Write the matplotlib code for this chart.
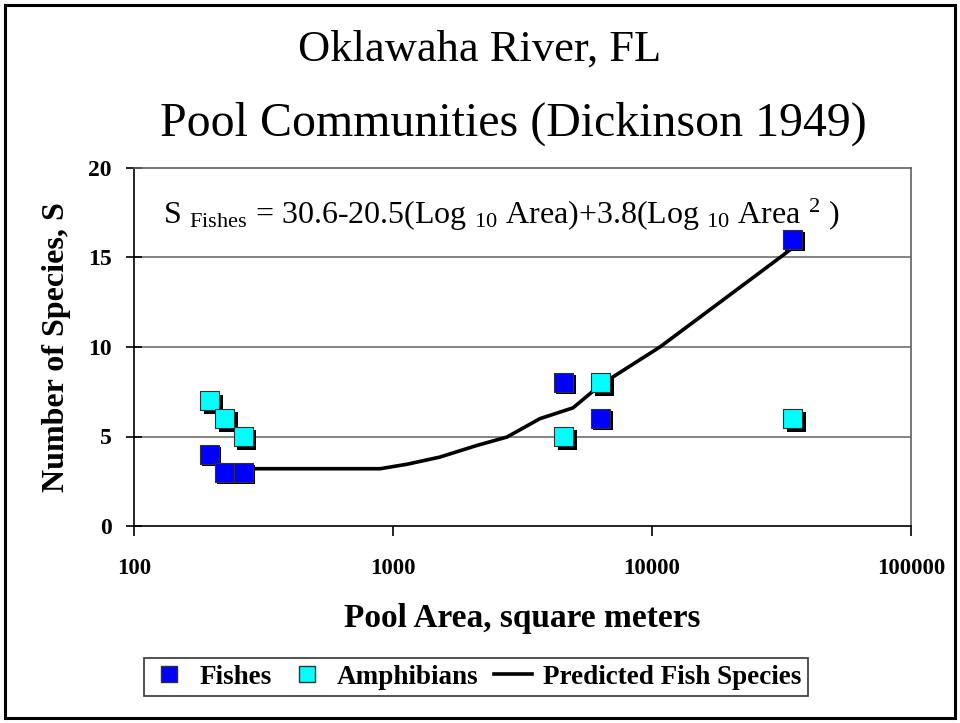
import matplotlib
matplotlib.use("Agg")
import matplotlib.pyplot as plt
import matplotlib.patheffects as pe
from matplotlib.lines import Line2D
from matplotlib.patches import Rectangle

# ---- data ----
area = [196, 224, 264, 4570, 6350, 35000]
fishes = [4, 3, 3, 8, 6, 16]
amphibians = [7, 6, 5, 5, 8, 6]

line_area = [224, 264, 892, 1133, 1517, 2108, 2754, 3696, 4955, 6350, 10730, 31200, 35000]
line_species = [3.2, 3.2, 3.2, 3.45, 3.85, 4.5, 4.97, 6.0, 6.6, 7.9, 10.0, 15.0, 15.55]

x_ticks = [100, 1000, 10000, 100000]
x_ticklabels = ["100", "1000", "10000", "100000"]
y_ticks = [0, 5, 10, 15, 20]

plt.rcParams['font.family'] = ['Liberation Serif', 'DejaVu Serif']
plt.rcParams['mathtext.fontset'] = 'custom'
plt.rcParams['mathtext.rm'] = 'Liberation Serif'
plt.rcParams['mathtext.it'] = 'Liberation Serif'

fig = plt.figure(figsize=(9.6, 7.23), dpi=100)
W, H = 960, 723

# outer border
fig.patches.append(Rectangle((5 / W, 5 / H), 950 / W, 713 / H, transform=fig.transFigure,
                             fill=False, edgecolor='black', linewidth=2.2))

ax = fig.add_axes([134 / W, 1 - 526 / H, (911 - 134) / W, (526 - 168) / H])
ax.set_xscale('log')
ax.set_xlim(100, 100000)
ax.set_ylim(0, 20)

ax.set_xticks(x_ticks)
ax.set_xticklabels(x_ticklabels)
ax.xaxis.set_minor_locator(matplotlib.ticker.NullLocator())
ax.set_yticks(y_ticks)

for yv in y_ticks[1:-1]:
    ax.axhline(yv, color='#707070', linewidth=1.2, zorder=1)

for s in ['top', 'right']:
    ax.spines[s].set_color('#606060')
    ax.spines[s].set_linewidth(1.2)
for s in ['left', 'bottom']:
    ax.spines[s].set_color('black')
    ax.spines[s].set_linewidth(1.2)

ax.tick_params(axis='y', direction='inout', length=12, width=1.2, labelsize=17, pad=10)
ax.tick_params(axis='x', direction='out', length=7, width=1.2, labelsize=16.5, pad=16)
for lab in ax.get_xticklabels() + ax.get_yticklabels():
    lab.set_fontweight('bold')

ax.plot(line_area, line_species, color='black', linewidth=2.6, zorder=3)

shadow = [pe.SimplePatchShadow(offset=(2.5, -2.5), shadow_rgbFace='black', alpha=1.0), pe.Normal()]
sc1 = ax.scatter(area, fishes, marker='s', s=190, facecolor='#0000FF', edgecolor='#303030',
                 linewidth=0.8, zorder=4)
sc1.set_path_effects([pe.SimplePatchShadow(offset=(1.5, -1.5), shadow_rgbFace='black', alpha=1.0), pe.Normal()])
sc2 = ax.scatter(area, amphibians, marker='s', s=190, facecolor='#00FFFF', edgecolor='#303030',
                 linewidth=0.8, zorder=5)
sc2.set_path_effects(shadow)

ax.text(29 / 777, 0.87, r"S $_{\mathrm{Fishes}}$ = 30.6-20.5(Log $_{10}$ Area)+3.8(Log $_{10}$ Area $^{2}$ )",
        transform=ax.transAxes, fontsize=23, ha='left', va='center')

ax.set_ylabel("Number of Species, S", fontsize=23, fontweight='bold', labelpad=12)
ax.set_xlabel("Pool Area, square meters", fontsize=24, fontweight='bold', labelpad=17)

fig.text(480 / W, 1 - 50 / H, "Oklawaha River, FL", fontsize=32, ha='center', va='center')
fig.text(513 / W, 1 - 124 / H, "Pool Communities (Dickinson 1949)", fontsize=34.5, ha='center', va='center')

handles = [
    Line2D([], [], marker='s', linestyle='none', markerfacecolor='#0000FF', markeredgecolor='#303030', markersize=11),
    Line2D([], [], marker='s', linestyle='none', markerfacecolor='#00FFFF', markeredgecolor='#303030', markersize=11),
    Line2D([], [], color='black', linewidth=2.6),
]
leg = fig.legend(handles, ["Fishes", "Amphibians", "Predicted Fish Species"], loc='center',
                 bbox_to_anchor=(476 / W, 1 - 677 / H), ncol=3, frameon=True, fancybox=False,
                 edgecolor='black', prop={'weight': 'bold', 'size': 19.5}, handlelength=1.4,
                 handletextpad=0.4, columnspacing=0.6, borderpad=0.25)
leg.get_frame().set_linewidth(1.2)

fig.savefig("out.png", dpi=100)
